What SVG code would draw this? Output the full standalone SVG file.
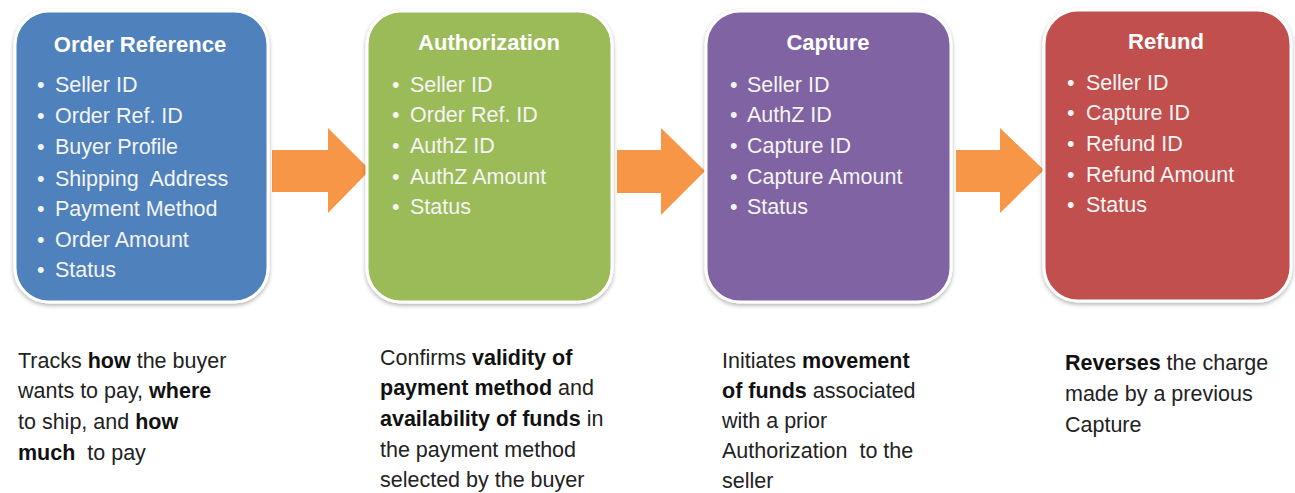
<svg xmlns="http://www.w3.org/2000/svg" width="1295" height="493" viewBox="0 0 1295 493">
<defs>
<filter id="sh" x="-10%" y="-10%" width="120%" height="120%">
<feDropShadow dx="0" dy="2" stdDeviation="2" flood-color="#000" flood-opacity="0.3"/>
</filter>
</defs>
<style>
.box{stroke:#fff;stroke-width:3;filter:url(#sh)}
.t{font-family:"Liberation Sans",Arial,sans-serif;font-weight:bold;font-size:22px;fill:#fff;text-anchor:middle}
.i{font-family:"Liberation Sans",Arial,sans-serif;font-size:21.5px;fill:#f4f4f4}
.d{font-family:"Liberation Sans",Arial,sans-serif;font-size:21.5px;fill:#222}
.d tspan.b{font-weight:bold;fill:#111}
.arr{fill:#F79646}
</style>
<g id="connectors">
<polygon class="arr" points="272,150 328,150 328,128 370,170 328,213 328,192 272,192"/>
<polygon class="arr" points="617,150 661,150 661,128 705,171 661,215 661,193 617,193"/>
<polygon class="arr" points="956,150 1000,150 1000,128 1044,170 1000,213 1000,192 956,192"/>
</g>
<g id="order-reference">
<rect class="box" x="15" y="11" width="253" height="291" rx="34" fill="#4F81BD"/>
<text class="t" x="140" y="52">Order Reference</text>
<text class="i" y="92"><tspan x="37">•</tspan><tspan x="55">Seller ID</tspan></text>
<text class="i" y="123"><tspan x="37">•</tspan><tspan x="55">Order Ref. ID</tspan></text>
<text class="i" y="154"><tspan x="37">•</tspan><tspan x="55">Buyer Profile</tspan></text>
<text class="i" y="186"><tspan x="37">•</tspan><tspan x="55">Shipping&#160; Address</tspan></text>
<text class="i" y="216"><tspan x="37">•</tspan><tspan x="55">Payment Method</tspan></text>
<text class="i" y="247"><tspan x="37">•</tspan><tspan x="55">Order Amount</tspan></text>
<text class="i" y="277"><tspan x="37">•</tspan><tspan x="55">Status</tspan></text>
</g>
<g id="authorization">
<rect class="box" x="367" y="11" width="245" height="291" rx="34" fill="#9BBB59"/>
<text class="t" x="489" y="50">Authorization</text>
<text class="i" y="92"><tspan x="392">•</tspan><tspan x="410">Seller ID</tspan></text>
<text class="i" y="122"><tspan x="392">•</tspan><tspan x="410">Order Ref. ID</tspan></text>
<text class="i" y="153"><tspan x="392">•</tspan><tspan x="410">AuthZ ID</tspan></text>
<text class="i" y="184"><tspan x="392">•</tspan><tspan x="410">AuthZ Amount</tspan></text>
<text class="i" y="214"><tspan x="392">•</tspan><tspan x="410">Status</tspan></text>
</g>
<g id="capture">
<rect class="box" x="706" y="11" width="245" height="291" rx="34" fill="#8064A2"/>
<text class="t" x="828" y="50">Capture</text>
<text class="i" y="92"><tspan x="730">•</tspan><tspan x="747">Seller ID</tspan></text>
<text class="i" y="122"><tspan x="730">•</tspan><tspan x="747">AuthZ ID</tspan></text>
<text class="i" y="153"><tspan x="730">•</tspan><tspan x="747">Capture ID</tspan></text>
<text class="i" y="184"><tspan x="730">•</tspan><tspan x="747">Capture Amount</tspan></text>
<text class="i" y="214"><tspan x="730">•</tspan><tspan x="747">Status</tspan></text>
</g>
<g id="refund">
<rect class="box" x="1044" y="10" width="247" height="291" rx="34" fill="#C0504D"/>
<text class="t" x="1166" y="49">Refund</text>
<text class="i" y="90"><tspan x="1067">•</tspan><tspan x="1086">Seller ID</tspan></text>
<text class="i" y="120"><tspan x="1067">•</tspan><tspan x="1086">Capture ID</tspan></text>
<text class="i" y="151"><tspan x="1067">•</tspan><tspan x="1086">Refund ID</tspan></text>
<text class="i" y="182"><tspan x="1067">•</tspan><tspan x="1086">Refund Amount</tspan></text>
<text class="i" y="212"><tspan x="1067">•</tspan><tspan x="1086">Status</tspan></text>
</g>
<g id="desc-order">
<text class="d" x="18" y="368">Tracks <tspan class="b">how</tspan> the buyer</text>
<text class="d" x="18" y="398">wants to pay, <tspan class="b">where</tspan></text>
<text class="d" x="18" y="429">to ship, and <tspan class="b">how</tspan></text>
<text class="d" x="18" y="460"><tspan class="b">much</tspan>&#160; to pay</text>
</g>
<g id="desc-auth">
<text class="d" x="380" y="365">Confirms <tspan class="b">validity of</tspan></text>
<text class="d" x="380" y="395"><tspan class="b">payment method</tspan> and</text>
<text class="d" x="380" y="426"><tspan class="b">availability of funds</tspan> in</text>
<text class="d" x="380" y="457">the payment method</text>
<text class="d" x="380" y="487">selected by the buyer</text>
</g>
<g id="desc-capture">
<text class="d" x="722" y="368">Initiates <tspan class="b">movement</tspan></text>
<text class="d" x="722" y="398"><tspan class="b">of funds</tspan> associated</text>
<text class="d" x="722" y="428">with a prior</text>
<text class="d" x="722" y="458">Authorization&#160; to the</text>
<text class="d" x="722" y="488">seller</text>
</g>
<g id="desc-refund">
<text class="d" x="1065" y="370"><tspan class="b">Reverses</tspan> the charge</text>
<text class="d" x="1065" y="401">made by a previous</text>
<text class="d" x="1065" y="432">Capture</text>
</g>
</svg>
